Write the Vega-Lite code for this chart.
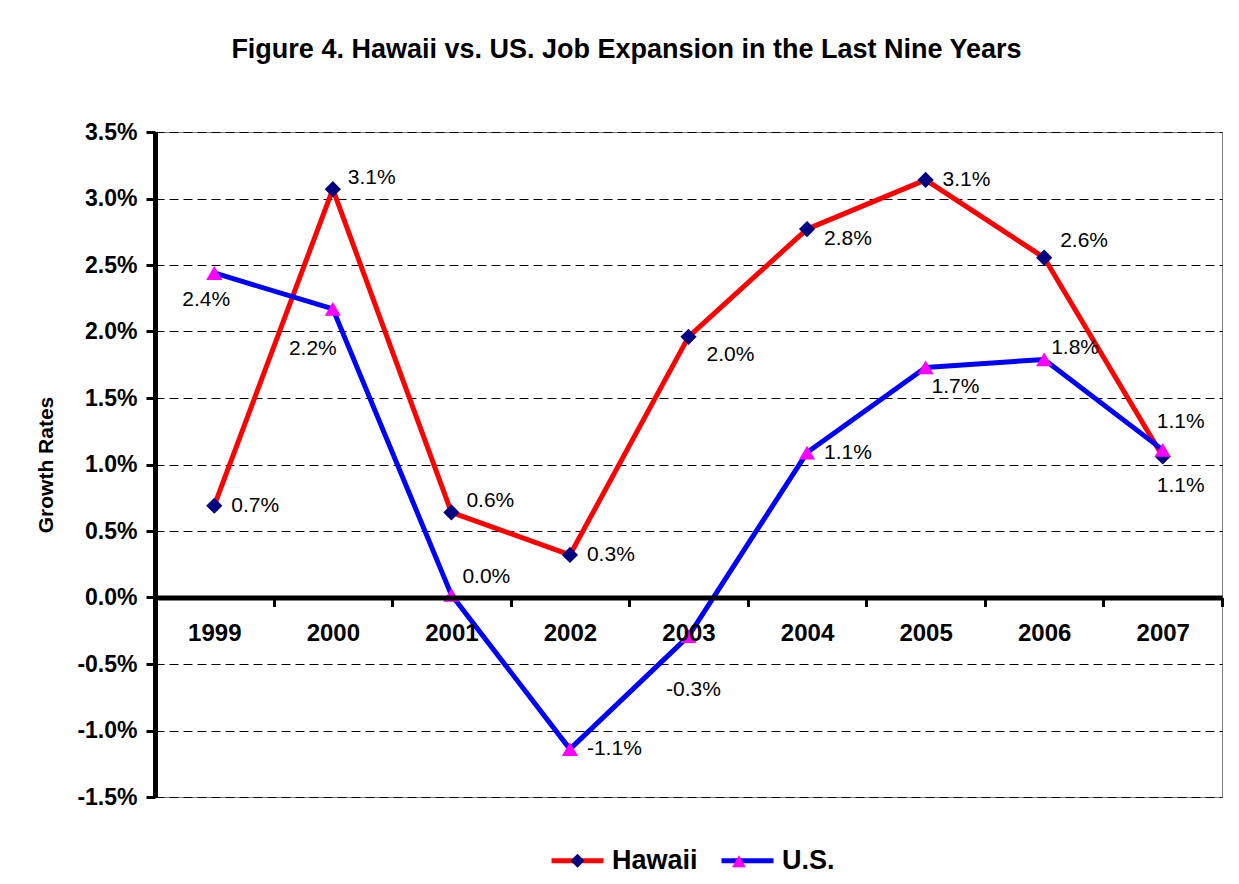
{
  "$schema": "https://vega.github.io/schema/vega-lite/v6.json",
  "width": 1067,
  "height": 665,
  "autosize": {"type": "none"},
  "padding": {"left": 155, "top": 132, "right": 17, "bottom": 87},
  "background": "white",
  "config": {
    "font": "Liberation Sans",
    "view": {"stroke": "#808080", "strokeWidth": 1},
    "locale": {"number": {"decimal": ".", "thousands": ",", "grouping": [3], "currency": ["$", ""], "minus": "-"}}
  },
  "title": {
    "text": "Figure 4. Hawaii vs. US. Job Expansion in the Last Nine Years",
    "font": "Liberation Sans",
    "fontSize": 27,
    "fontWeight": "bold",
    "color": "black",
    "anchor": "middle",
    "baseline": "alphabetic",
    "offset": 36,
    "dx": -62
  },
  "data": {
    "values": [
      {"year": "1999", "series": "Hawaii", "value": 0.0069},
      {"year": "2000", "series": "Hawaii", "value": 0.0307},
      {"year": "2001", "series": "Hawaii", "value": 0.0064},
      {"year": "2002", "series": "Hawaii", "value": 0.0032},
      {"year": "2003", "series": "Hawaii", "value": 0.0196},
      {"year": "2004", "series": "Hawaii", "value": 0.0277},
      {"year": "2005", "series": "Hawaii", "value": 0.0314},
      {"year": "2006", "series": "Hawaii", "value": 0.02555},
      {"year": "2007", "series": "Hawaii", "value": 0.0106},
      {"year": "1999", "series": "U.S.", "value": 0.0244},
      {"year": "2000", "series": "U.S.", "value": 0.0217},
      {"year": "2001", "series": "U.S.", "value": 0.0002},
      {"year": "2002", "series": "U.S.", "value": -0.0114},
      {"year": "2003", "series": "U.S.", "value": -0.0029},
      {"year": "2004", "series": "U.S.", "value": 0.0109},
      {"year": "2005", "series": "U.S.", "value": 0.0173},
      {"year": "2006", "series": "U.S.", "value": 0.0179},
      {"year": "2007", "series": "U.S.", "value": 0.0111}
    ]
  },
  "encoding": {
    "x": {
      "field": "year",
      "type": "nominal",
      "scale": {"type": "band", "paddingInner": 0, "paddingOuter": 0},
      "axis": {
        "orient": "bottom",
        "offset": -199.5,
        "title": null,
        "labelAngle": 0,
        "labelFont": "Liberation Sans",
        "labelFontSize": 24,
        "labelFontWeight": "bold",
        "labelColor": "black",
        "labelPadding": 15,
        "tickBand": "extent",
        "tickSize": 9,
        "tickWidth": 3,
        "tickColor": "black",
        "domainColor": "black",
        "domainWidth": 5,
        "grid": false,
        "zindex": 1
      }
    },
    "y": {
      "field": "value",
      "type": "quantitative",
      "scale": {"domain": [-0.015, 0.035], "nice": false, "zero": false},
      "axis": {
        "values": [-0.015, -0.01, -0.005, 0, 0.005, 0.01, 0.015, 0.02, 0.025, 0.03, 0.035],
        "format": ".1%",
        "title": "Growth Rates",
        "titleFont": "Liberation Sans",
        "titleFontSize": 21,
        "titleFontWeight": "bold",
        "titleColor": "black",
        "titlePadding": 20,
        "labelFont": "Liberation Sans",
        "labelFontSize": 23,
        "labelFontWeight": "bold",
        "labelColor": "black",
        "labelPadding": 9,
        "tickSize": 9,
        "tickWidth": 3,
        "tickColor": "black",
        "domainColor": "black",
        "domainWidth": 5,
        "grid": true,
        "gridColor": "black",
        "gridDash": [9, 5],
        "gridWidth": 1,
        "gridOpacity": 1
      }
    }
  },
  "layer": [
    {
      "mark": {"type": "line", "strokeWidth": 5, "strokeJoin": "round", "strokeCap": "round"},
      "encoding": {
        "stroke": {
          "field": "series",
          "type": "nominal",
          "scale": {"domain": ["Hawaii", "U.S."], "range": ["#FF0000", "#0000FF"]},
          "legend": {
            "orient": "none",
            "legendX": 394,
            "legendY": 700,
            "direction": "horizontal",
            "title": null,
            "padding": 0,
            "symbolType": "stroke",
            "symbolSize": 2704,
            "symbolStrokeWidth": 5,
            "labelFont": "Liberation Sans",
            "labelFontSize": 27,
            "labelFontWeight": "bold",
            "labelColor": "black",
            "labelOffset": 6,
            "columnPadding": 13
          }
        }
      }
    },
    {
      "mark": {"type": "point", "filled": true, "size": 3600, "opacity": 1, "strokeWidth": 0},
      "encoding": {
        "shape": {
          "field": "series",
          "type": "nominal",
          "scale": {"range": ["M0,-0.27L0.27,0L0,0.27L-0.27,0Z", "M0,-0.23L0.27,0.23L-0.27,0.23Z"]},
          "legend": {
            "orient": "none",
            "legendX": 394,
            "legendY": 700,
            "direction": "horizontal",
            "title": null,
            "padding": 0,
            "symbolSize": 2704,
            "symbolStrokeWidth": 5,
            "symbolStrokeColor": "transparent",
            "symbolOpacity": 1,
            "labelFont": "Liberation Sans",
            "labelFontSize": 27,
            "labelFontWeight": "bold",
            "labelExpr": "''",
            "labelOffset": 6,
            "columnPadding": 98.5
          }
        },
        "fill": {
          "field": "series",
          "type": "nominal",
          "scale": {"range": ["#000080", "#FF00FF"]},
          "legend": {
            "orient": "none",
            "legendX": 394,
            "legendY": 700,
            "direction": "horizontal",
            "title": null,
            "padding": 0,
            "symbolSize": 2704,
            "symbolStrokeWidth": 5,
            "symbolStrokeColor": "transparent",
            "symbolOpacity": 1,
            "labelFont": "Liberation Sans",
            "labelFontSize": 27,
            "labelFontWeight": "bold",
            "labelExpr": "''",
            "labelOffset": 6,
            "columnPadding": 98.5
          }
        }
      }
    },
    {
      "transform": [{"filter": "(datum.series=='Hawaii' && (datum.year=='1999' || datum.year=='2002' || datum.year=='2005')) || (datum.series=='U.S.' && (datum.year=='2002' || datum.year=='2004'))"}],
      "mark": {"type": "text", "fontSize": 21, "color": "black", "align": "left", "baseline": "middle", "dx": 17, "dy": 0},
      "encoding": {"text": {"field": "value", "type": "quantitative", "format": ".1%"}}
    },
    {
      "transform": [{"filter": "datum.series=='Hawaii' && (datum.year=='2000' || datum.year=='2001')"}],
      "mark": {"type": "text", "fontSize": 21, "color": "black", "align": "left", "baseline": "middle", "dx": 15, "dy": -11},
      "encoding": {"text": {"field": "value", "type": "quantitative", "format": ".1%"}}
    },
    {
      "transform": [{"filter": "datum.series=='Hawaii' && datum.year=='2006'"}],
      "mark": {"type": "text", "fontSize": 21, "color": "black", "align": "left", "baseline": "middle", "dx": 16, "dy": -17},
      "encoding": {"text": {"field": "value", "type": "quantitative", "format": ".1%"}}
    },
    {
      "transform": [{"filter": "datum.series=='U.S.' && datum.year=='2001'"}],
      "mark": {"type": "text", "fontSize": 21, "color": "black", "align": "left", "baseline": "middle", "dx": 11, "dy": -18},
      "encoding": {"text": {"field": "value", "type": "quantitative", "format": ".1%"}}
    },
    {
      "transform": [{"filter": "datum.series=='U.S.' && datum.year=='2006'"}],
      "mark": {"type": "text", "fontSize": 21, "color": "black", "align": "left", "baseline": "middle", "dx": 7, "dy": -11},
      "encoding": {"text": {"field": "value", "type": "quantitative", "format": ".1%"}}
    },
    {
      "transform": [{"filter": "datum.series=='Hawaii' && datum.year=='2004'"}],
      "mark": {"type": "text", "fontSize": 21, "color": "black", "align": "left", "baseline": "middle", "dx": 17, "dy": 10},
      "encoding": {"text": {"field": "value", "type": "quantitative", "format": ".1%"}}
    },
    {
      "transform": [{"filter": "datum.series=='Hawaii' && datum.year=='2003'"}],
      "mark": {"type": "text", "fontSize": 21, "color": "black", "align": "left", "baseline": "middle", "dx": 18, "dy": 18},
      "encoding": {"text": {"field": "value", "type": "quantitative", "format": ".1%"}}
    },
    {
      "transform": [{"filter": "datum.series=='U.S.' && datum.year=='2005'"}],
      "mark": {"type": "text", "fontSize": 21, "color": "black", "align": "left", "baseline": "middle", "dx": 6, "dy": 20},
      "encoding": {"text": {"field": "value", "type": "quantitative", "format": ".1%"}}
    },
    {
      "transform": [{"filter": "datum.series=='Hawaii' && datum.year=='2007'"}],
      "mark": {"type": "text", "fontSize": 21, "color": "black", "align": "center", "baseline": "middle", "dx": 18, "dy": 29},
      "encoding": {"text": {"field": "value", "type": "quantitative", "format": ".1%"}}
    },
    {
      "transform": [{"filter": "datum.series=='U.S.' && datum.year=='2007'"}],
      "mark": {"type": "text", "fontSize": 21, "color": "black", "align": "center", "baseline": "middle", "dx": 18, "dy": -28},
      "encoding": {"text": {"field": "value", "type": "quantitative", "format": ".1%"}}
    },
    {
      "transform": [{"filter": "datum.series=='U.S.' && datum.year=='1999'"}],
      "mark": {"type": "text", "fontSize": 21, "color": "black", "align": "center", "baseline": "middle", "dx": -8, "dy": 27},
      "encoding": {"text": {"field": "value", "type": "quantitative", "format": ".1%"}}
    },
    {
      "transform": [{"filter": "datum.series=='U.S.' && datum.year=='2000'"}],
      "mark": {"type": "text", "fontSize": 21, "color": "black", "align": "center", "baseline": "middle", "dx": -20, "dy": 40},
      "encoding": {"text": {"field": "value", "type": "quantitative", "format": ".1%"}}
    },
    {
      "transform": [{"filter": "datum.series=='U.S.' && datum.year=='2003'"}],
      "mark": {"type": "text", "fontSize": 21, "color": "black", "align": "center", "baseline": "middle", "dx": 5, "dy": 54},
      "encoding": {"text": {"field": "value", "type": "quantitative", "format": ".1%"}}
    }
  ]
}
